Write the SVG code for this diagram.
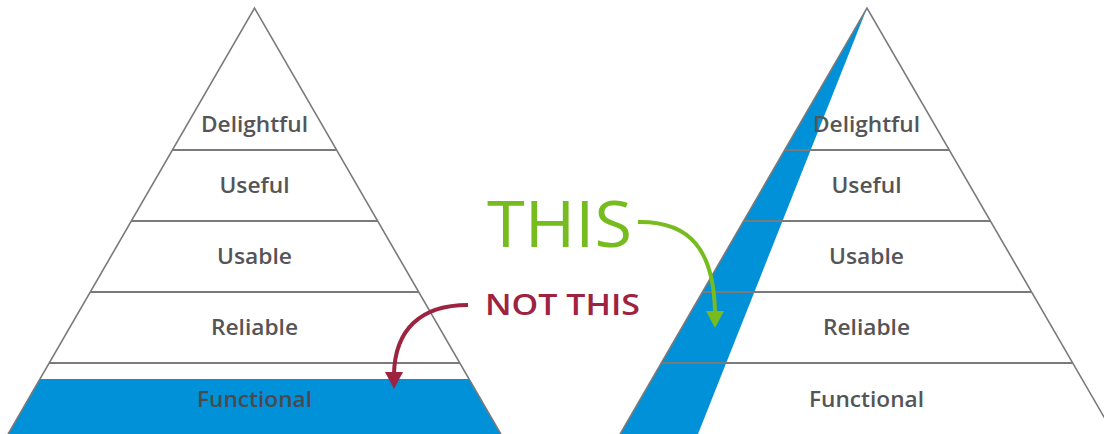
<svg xmlns="http://www.w3.org/2000/svg" width="1104" height="434" viewBox="0 0 1104 434">
  <defs>
    <style>
      .edge { fill: none; stroke: #7a7a7a; stroke-width: 1.6; }
      .tier { stroke: #7a7a7a; stroke-width: 2; }
      .blue { fill: #0091d8; }
      .lbl { font-family: "Open Sans", "Liberation Sans", sans-serif; font-weight: 600; font-size: 21px; fill: #555557; text-anchor: middle; }
      .big { font-family: "Open Sans", "Liberation Sans", sans-serif; }
    </style>
  </defs>
  <rect width="1104" height="434" fill="#ffffff"/>

  <g id="left-pyramid">
    <polygon class="blue" points="39.7,379 469.3,379 501,434 8,434"/>
    <path class="edge" d="M7,436 L254.5,8 L502,436"/>
    <line class="tier" x1="172.3" y1="150" x2="336.7" y2="150"/>
    <line class="tier" x1="131.2" y1="221" x2="377.8" y2="221"/>
    <line class="tier" x1="90.1" y1="292" x2="418.9" y2="292"/>
    <line class="tier" x1="49" y1="363" x2="460" y2="363"/>
  </g>
  <g id="left-delightful"><text class="lbl" x="254.5" y="132" textLength="107" lengthAdjust="spacingAndGlyphs">Delightful</text></g>
  <g id="left-useful"><text class="lbl" x="254.5" y="193" textLength="70" lengthAdjust="spacingAndGlyphs">Useful</text></g>
  <g id="left-usable"><text class="lbl" x="254.5" y="264" textLength="75" lengthAdjust="spacingAndGlyphs">Usable</text></g>
  <g id="left-reliable"><text class="lbl" x="254.5" y="335" textLength="87" lengthAdjust="spacingAndGlyphs">Reliable</text></g>
  <g id="left-functional"><text class="lbl" x="254.5" y="407" textLength="115" lengthAdjust="spacingAndGlyphs" style="fill:#4a4a4c">Functional</text></g>

  <g id="right-pyramid">
    <polygon class="blue" points="867,8 698,434 620.3,434"/>
    <path class="edge" d="M619,436 L867,8 L1115,436"/>
    <line class="tier" x1="784.8" y1="150" x2="949.2" y2="150"/>
    <line class="tier" x1="743.7" y1="221" x2="990.3" y2="221"/>
    <line class="tier" x1="702.6" y1="292" x2="1031.4" y2="292"/>
    <line class="tier" x1="661.5" y1="363" x2="1072.5" y2="363"/>
  </g>
  <g id="right-delightful"><text class="lbl" x="866.5" y="132" textLength="107" lengthAdjust="spacingAndGlyphs">Delightful</text></g>
  <g id="right-useful"><text class="lbl" x="866.5" y="193" textLength="70" lengthAdjust="spacingAndGlyphs">Useful</text></g>
  <g id="right-usable"><text class="lbl" x="866.5" y="264" textLength="75" lengthAdjust="spacingAndGlyphs">Usable</text></g>
  <g id="right-reliable"><text class="lbl" x="866.5" y="335" textLength="87" lengthAdjust="spacingAndGlyphs">Reliable</text></g>
  <g id="right-functional"><text class="lbl" x="866.5" y="407" textLength="115" lengthAdjust="spacingAndGlyphs">Functional</text></g>

  <g id="this-label"><text class="big" x="487" y="247" font-size="64" font-weight="400" fill="#77bc1f" textLength="145" lengthAdjust="spacingAndGlyphs">THIS</text></g>
  <g id="not-this-label"><text class="big" x="485" y="315" font-size="28" font-weight="600" fill="#9e2340" textLength="155" lengthAdjust="spacingAndGlyphs">NOT THIS</text></g>

  <g id="connectors">
    <path d="M638,222 C690,221 714,250 715,313" fill="none" stroke="#77bc1f" stroke-width="4"/>
    <polygon points="706,311 724,311 715,328" fill="#77bc1f"/>
    <path d="M468,305 C420,305 395,330 394,374" fill="none" stroke="#9e2340" stroke-width="4"/>
    <polygon points="385,372 403,372 394,389" fill="#9e2340"/>
  </g>
</svg>
